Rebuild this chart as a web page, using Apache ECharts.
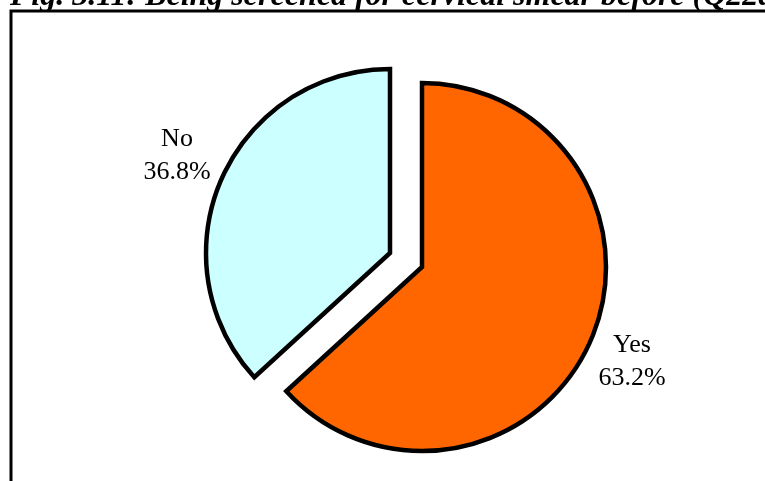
<!DOCTYPE html>
<html>
<head>
<meta charset="utf-8">
<script src="https://cdn.jsdelivr.net/npm/echarts@6/dist/echarts.min.js"></script>
<style>
html,body{margin:0;padding:0;background:#fff;}
#chart{width:765px;height:481px;}
</style>
</head>
<body>
<div id="chart"></div>
<script>
const categories = ["Yes", "No"];
const percentages = [63.2, 36.8];
const sliceColors = ["#FF6600", "#CCFFFF"];
const titleText = "Fig. 3.11: Being screened for cervical smear before (Q22a)";

const chart = echarts.init(document.getElementById('chart'), null, {renderer: 'canvas'});

// each slice drawn in its own pie layer (exploded pie look)
const sliceCenters = { "Yes": [422, 267], "No": [390, 253] };
const labelPos = { "Yes": [632, 362], "No": [177, 156] };

function sliceSeries(showName) {
  return {
    type: 'pie',
    center: sliceCenters[showName],
    radius: [0, 184],
    startAngle: 90,
    clockwise: true,
    avoidLabelOverlap: false,
    silent: true,
    data: categories.map((c, i) => {
      const on = c === showName;
      return {
        name: c,
        value: percentages[i],
        itemStyle: on
          ? { color: sliceColors[i], borderColor: '#000', borderWidth: 4.5, borderJoin: 'miter' }
          : { color: 'rgba(0,0,0,0)', borderWidth: 0 },
        label: { show: on }
      };
    }),
    label: {
      position: 'outside',
      formatter: p => p.name + '\n' + p.value.toFixed(1) + '%',
      fontFamily: '"Liberation Serif"',
      fontSize: 26,
      lineHeight: 33,
      color: '#000',
      align: 'center'
    },
    labelLine: { show: false },
    labelLayout: function (params) {
      const name = categories[params.dataIndex];
      const p = labelPos[name];
      return { x: p[0], y: p[1], align: 'center', verticalAlign: 'middle' };
    },
    emphasis: { disabled: true }
  };
}

chart.setOption({
  backgroundColor: '#ffffff',
  animation: false,
  graphic: [
    {
      type: 'rect',
      shape: { x: 11, y: 11, width: 900, height: 600 },
      style: { fill: 'none', stroke: '#000', lineWidth: 3 },
      z: 1
    },
    {
      type: 'text',
      x: 10, y: -3,
      style: {
        text: titleText,
        font: 'italic bold 32px "Liberation Serif"',
        fill: '#000',
        verticalAlign: 'middle'
      },
      z: 2
    }
  ],
  series: [sliceSeries("Yes"), sliceSeries("No")]
});
</script>
</body>
</html>
